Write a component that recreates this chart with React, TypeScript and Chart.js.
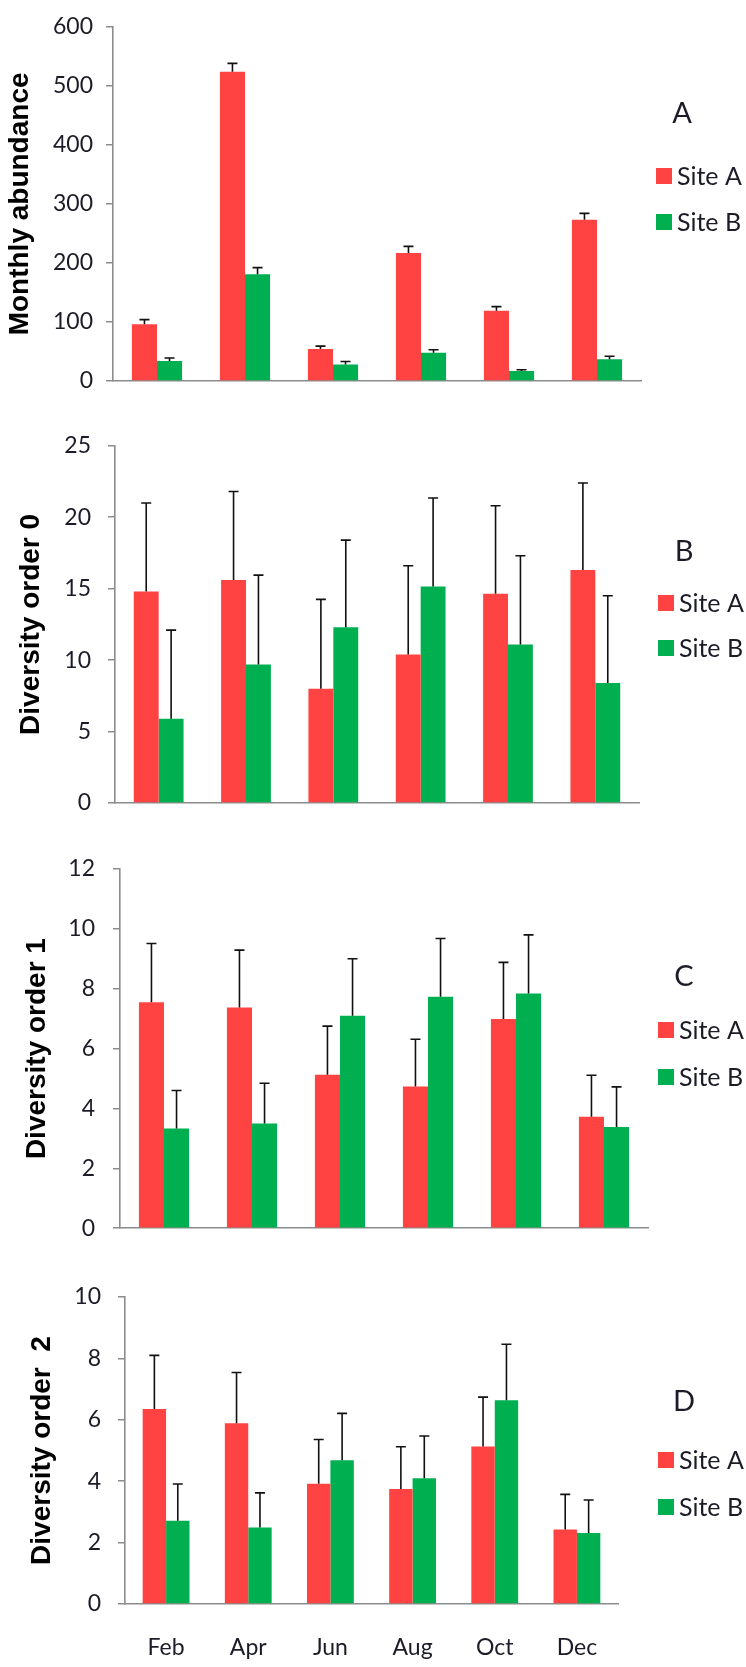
import React, { useEffect, useRef } from "react";
import { Chart, registerables } from "chart.js";

Chart.register(...registerables);

// ---------- data ----------
const months = ["Feb", "Apr", "Jun", "Aug", "Oct", "Dec"];
const seriesNames = ["Site A", "Site B"];

// Panel A – Monthly abundance
const abundanceSiteA = [96, 524, 54, 217, 119, 273];
const abundanceSiteAErrTop = [104, 538, 59, 228, 126, 284];
const abundanceSiteB = [34, 181, 28, 48, 17, 37];
const abundanceSiteBErrTop = [39, 192, 33, 53, 19, 42];
const abundanceTicks = { max: 600, step: 100 };

// Panel B – Diversity order 0
const div0SiteA = [14.8, 15.6, 8.0, 10.4, 14.65, 16.3];
const div0SiteAErrTop = [21.0, 21.8, 14.25, 16.6, 20.8, 22.4];
const div0SiteB = [5.9, 9.7, 12.3, 15.15, 11.1, 8.4];
const div0SiteBErrTop = [12.1, 15.95, 18.4, 21.35, 17.3, 14.5];
const div0Ticks = { max: 25, step: 5 };

// Panel C – Diversity order 1
const div1SiteA = [7.55, 7.37, 5.13, 4.73, 6.99, 3.72];
const div1SiteAErrTop = [9.51, 9.29, 6.75, 6.31, 8.88, 5.11];
const div1SiteB = [3.33, 3.5, 7.1, 7.73, 7.84, 3.38];
const div1SiteBErrTop = [4.6, 4.84, 9.0, 9.68, 9.8, 4.72];
const div1Ticks = { max: 12, step: 2 };

// Panel D – Diversity order 2
const div2SiteA = [6.35, 5.89, 3.92, 3.75, 5.13, 2.43];
const div2SiteAErrTop = [8.1, 7.54, 5.36, 5.12, 6.74, 3.57];
const div2SiteB = [2.71, 2.49, 4.68, 4.1, 6.64, 2.31];
const div2SiteBErrTop = [3.91, 3.62, 6.21, 5.47, 8.46, 3.39];
const div2Ticks = { max: 10, step: 2 };

const yTitles = ["Monthly abundance", "Diversity order 0", "Diversity order 1", "Diversity order  2"];
const panelLetters = ["A", "B", "C", "D"];

// ---------- styles / layout ----------
const RED = "#FF4242";
const GREEN = "#00B050";
const AXIS = "#8c8c8c";
const TEXT = "#1c1c28";
const TICK_FONT = { family: "Lato", size: 23 };

type Layout = {
  top: number;
  height: number;
  plotTop: number;
  plotBottom: number;
  plotLeft: number;
  plotRight: number;
  titleX: number;
  letterX: number;
  letterY: number;
  boxX: number;
  rowY: [number, number];
  tickPad: number;
  showX: boolean;
};

const layouts: Layout[] = [
  { top: 0, height: 415, plotTop: 17, plotBottom: 381, plotLeft: 113, plotRight: 641, titleX: 20, letterX: 682, letterY: 114, boxX: 656, rowY: [176, 222], tickPad: 13, showX: false },
  { top: 415, height: 420, plotTop: 429, plotBottom: 803, plotLeft: 115, plotRight: 639, titleX: 31, letterX: 684, letterY: 552, boxX: 658, rowY: [603, 648], tickPad: 17, showX: false },
  { top: 835, height: 425, plotTop: 869, plotBottom: 1240, plotLeft: 120, plotRight: 648, titleX: 37, letterX: 684, letterY: 977, boxX: 658, rowY: [1030, 1077], tickPad: 18, showX: false },
  { top: 1260, height: 407, plotTop: 1297, plotBottom: 1604, plotLeft: 125, plotRight: 618, titleX: 42, letterX: 684, letterY: 1402, boxX: 658, rowY: [1460, 1507], tickPad: 17, showX: true },
];

const panelData = [
  { a: abundanceSiteA, aErr: abundanceSiteAErrTop, b: abundanceSiteB, bErr: abundanceSiteBErrTop, ticks: abundanceTicks },
  { a: div0SiteA, aErr: div0SiteAErrTop, b: div0SiteB, bErr: div0SiteBErrTop, ticks: div0Ticks },
  { a: div1SiteA, aErr: div1SiteAErrTop, b: div1SiteB, bErr: div1SiteBErrTop, ticks: div1Ticks },
  { a: div2SiteA, aErr: div2SiteAErrTop, b: div2SiteB, bErr: div2SiteBErrTop, ticks: div2Ticks },
];

const errorBarPlugin = {
  id: "errorBars",
  afterDatasetsDraw(chart: any) {
    const ctx = chart.ctx;
    const yScale = chart.scales.y;
    chart.data.datasets.forEach((ds: any, di: number) => {
      const tops: number[] | undefined = ds.errorTop;
      if (!tops) return;
      const meta = chart.getDatasetMeta(di);
      meta.data.forEach((el: any, i: number) => {
        const x = el.x;
        const y0 = el.y;
        const y1 = yScale.getPixelForValue(tops[i]);
        ctx.save();
        ctx.strokeStyle = "#111";
        ctx.lineWidth = 1.6;
        ctx.beginPath();
        ctx.moveTo(x, y0);
        ctx.lineTo(x, y1);
        ctx.moveTo(x - 5, y1);
        ctx.lineTo(x + 5, y1);
        ctx.stroke();
        ctx.restore();
      });
    });
  },
};

const panelLegendPlugin = {
  id: "panelLegend",
  afterDraw(chart: any, _args: any, opts: any) {
    const ctx = chart.ctx;
    ctx.save();
    ctx.fillStyle = TEXT;
    ctx.font = "29px Lato";
    ctx.textAlign = "center";
    ctx.textBaseline = "middle";
    ctx.fillText(opts.letter, opts.letterX, opts.letterY);
    chart.data.datasets.forEach((ds: any, i: number) => {
      const cy = opts.rowY[i];
      ctx.fillStyle = ds.backgroundColor;
      ctx.fillRect(opts.boxX, cy - 8, 16, 16);
      ctx.fillStyle = TEXT;
      ctx.font = "25px Lato";
      ctx.textAlign = "left";
      ctx.textBaseline = "middle";
      ctx.fillText(ds.label, opts.boxX + 21, cy + 1);
    });
    ctx.restore();
  },
};

function Panel({ index }: { index: number }) {
  const ref = useRef<HTMLCanvasElement | null>(null);
  const L = layouts[index];
  useEffect(() => {
    if (!ref.current) return;
    const d = panelData[index];
    const titleSize = 28;
    const chart = new Chart(ref.current, {
      type: "bar",
      data: {
        labels: months,
        datasets: [
          { label: seriesNames[0], data: d.a, backgroundColor: RED, borderWidth: 0, barPercentage: 1, categoryPercentage: 0.57, errorTop: d.aErr } as any,
          { label: seriesNames[1], data: d.b, backgroundColor: GREEN, borderWidth: 0, barPercentage: 1, categoryPercentage: 0.57, errorTop: d.bErr } as any,
        ],
      },
      options: {
        animation: false,
        responsive: false,
        devicePixelRatio: 1,
        layout: { padding: { top: L.plotTop - L.top, right: 746 - L.plotRight, bottom: 0, left: 0 } },
        plugins: {
          legend: { display: false },
          tooltip: { enabled: false },
          panelLegend: {
            letter: panelLetters[index],
            letterX: L.letterX,
            letterY: L.letterY - L.top,
            boxX: L.boxX,
            rowY: [L.rowY[0] - L.top, L.rowY[1] - L.top],
          },
        } as any,
        scales: {
          x: {
            grid: { display: true, drawOnChartArea: false, drawTicks: false },
            border: { display: true, color: AXIS, width: 1.6 },
            ticks: { display: L.showX, font: TICK_FONT, color: TEXT, padding: 30 },
            afterFit: (s: any) => {
              s.height = L.top + L.height - L.plotBottom;
            },
          },
          y: {
            min: 0,
            max: d.ticks.max,
            ticks: { stepSize: d.ticks.step, font: TICK_FONT, color: TEXT, padding: L.tickPad },
            grid: { drawOnChartArea: false, drawTicks: true, tickLength: 7, color: AXIS, lineWidth: 1.5 },
            border: { display: true, color: AXIS, width: 1.6 },
            title: {
              display: true,
              text: yTitles[index],
              color: "#000",
              font: { family: "Liberation Sans", weight: "bold", size: titleSize, lineHeight: 1 },
              padding: { top: L.titleX - titleSize / 2, bottom: 0 },
            },
            afterFit: (s: any) => {
              s.width = L.plotLeft;
            },
          },
        },
      },
      plugins: [errorBarPlugin, panelLegendPlugin],
    });
    return () => chart.destroy();
  }, [index]);
  return (
    <canvas
      ref={ref}
      width={746}
      height={L.height}
      style={{ position: "absolute", left: 0, top: L.top, width: 746, height: L.height }}
    />
  );
}

export default function App() {
  return (
    <div style={{ position: "absolute", left: 0, top: 0, width: 746, height: 1667, background: "#fff" }}>
      {layouts.map((_, i) => (
        <Panel key={i} index={i} />
      ))}
    </div>
  );
}
